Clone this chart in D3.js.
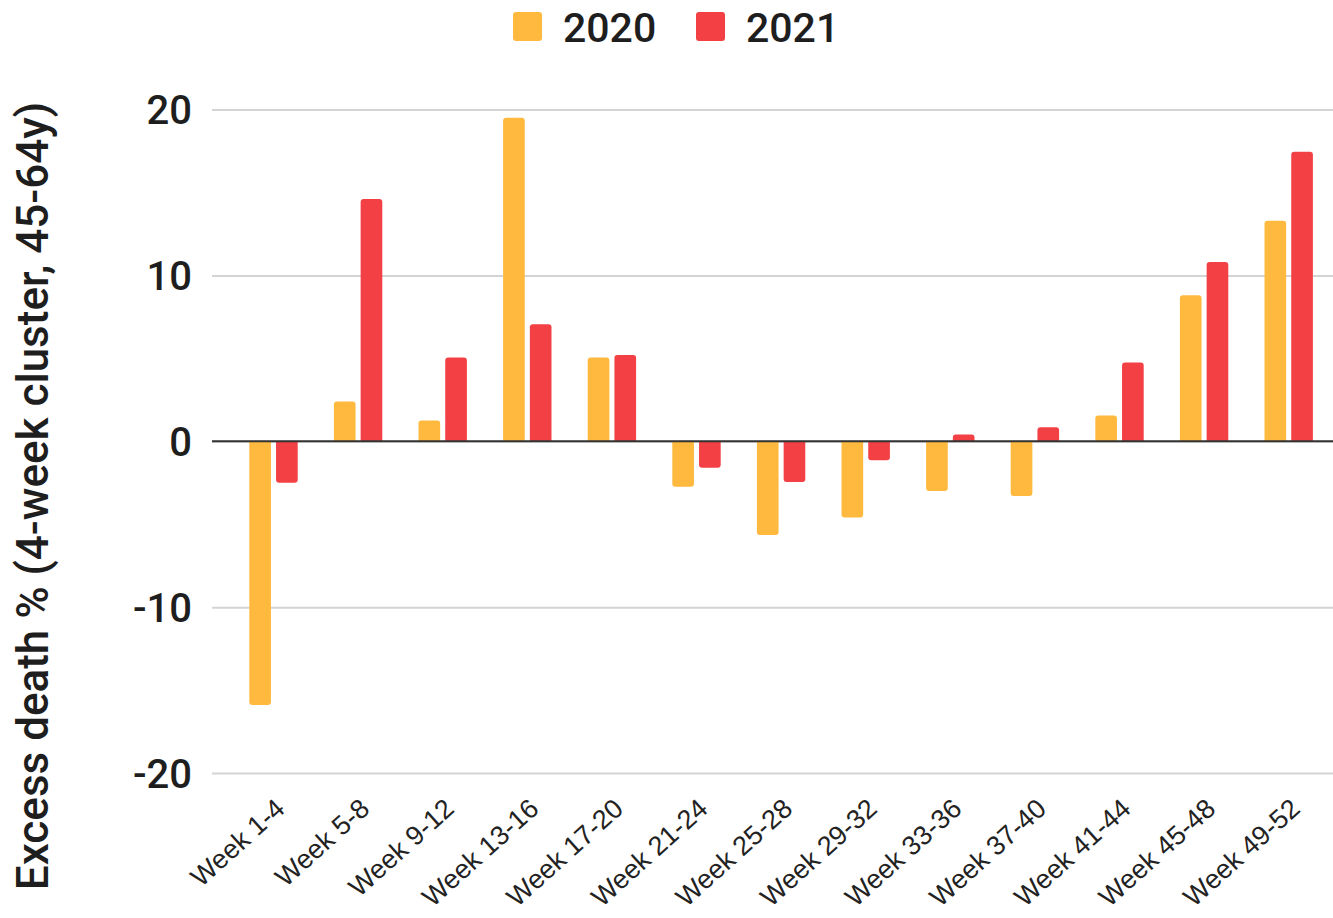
<!DOCTYPE html>
<html>
<head>
<meta charset="utf-8">
<script src="https://cdn.jsdelivr.net/npm/d3@7"></script>
<style>
  html, body { margin: 0; padding: 0; background: #fff; }
  svg { display: block; font-family: Roboto, "Liberation Sans", Arial, sans-serif; }
</style>
</head>
<body>
<svg id="chart" width="1333" height="918"></svg>
<script>
// 4-week clusters of the year
const categories = ["Week 1-4", "Week 5-8", "Week 9-12", "Week 13-16", "Week 17-20",
  "Week 21-24", "Week 25-28", "Week 29-32", "Week 33-36", "Week 37-40",
  "Week 41-44", "Week 45-48", "Week 49-52"];
// Excess death %, age 45-64
const values2020 = [-15.9, 2.4, 1.25, 19.5, 5.05, -2.75, -5.65, -4.6, -3.0, -3.3, 1.55, 8.8, 13.3];
const values2021 = [-2.5, 14.6, 5.05, 7.05, 5.2, -1.6, -2.45, -1.15, 0.4, 0.85, 4.75, 10.8, 17.45];
const seriesNames = ["2020", "2021"];
const seriesColors = ["#FFB93F", "#F34045"];
const yTicks = [-20, -10, 0, 10, 20];
const yTitle = "Excess death % (4-week cluster, 45-64y)";

const svg = d3.select("#chart");
const plotLeft = 212, plotRight = 1333;

const y = d3.scaleLinear().domain([-20, 20]).range([773, 109.5]);
const x0 = d3.scaleBand().domain(categories).range([231.2, 1331])
  .paddingInner(0.428).paddingOuter(0.214);
const x1 = d3.scaleBand().domain(seriesNames).range([0, x0.bandwidth()]).paddingInner(0.19);
const color = d3.scaleOrdinal().domain(seriesNames).range(seriesColors);

// Horizontal gridlines and tick labels
const yAxis = d3.axisLeft(y).tickValues(yTicks).tickFormat(d => String(d))
  .tickSize(-(plotRight - plotLeft)).tickPadding(20);
const gy = svg.append("g").attr("transform", `translate(${plotLeft},0)`).call(yAxis);
gy.select(".domain").remove();
gy.selectAll(".tick line").attr("stroke", "#d4d4d4").attr("stroke-width", 2);
gy.selectAll(".tick text").attr("fill", "#1e1e1e").attr("font-size", 40)
  .attr("font-weight", 500).attr("dy", "0.36em")
  .style("font-family", "Roboto, 'Liberation Sans', Arial, sans-serif");

// Bars with rounded outer ends
function barPath(xl, w, v) {
  const yz = y(0), yv = y(v);
  const h = Math.abs(yv - yz);
  const r = Math.min(3, h / 2, w / 2);
  if (v >= 0) {
    return `M${xl},${yz}V${yv + r}Q${xl},${yv} ${xl + r},${yv}H${xl + w - r}Q${xl + w},${yv} ${xl + w},${yv + r}V${yz}Z`;
  }
  return `M${xl},${yz}V${yv - r}Q${xl},${yv} ${xl + r},${yv}H${xl + w - r}Q${xl + w},${yv} ${xl + w},${yv - r}V${yz}Z`;
}

const rows = categories.map((c, i) => ({ cat: c, vals: [
  { key: "2020", v: values2020[i] }, { key: "2021", v: values2021[i] }] }));

const groups = svg.append("g").selectAll("g").data(rows).join("g")
  .attr("transform", d => `translate(${x0(d.cat)},0)`);
groups.selectAll("path").data(d => d.vals).join("path")
  .attr("d", d => barPath(x1(d.key), x1.bandwidth(), d.v))
  .attr("fill", d => color(d.key));

// Zero baseline
svg.append("line").attr("x1", plotLeft).attr("x2", plotRight)
  .attr("y1", y(0)).attr("y2", y(0)).attr("stroke", "#333").attr("stroke-width", 2);

// Rotated category labels
svg.append("g").selectAll("text").data(categories).join("text")
  .attr("transform", d => `translate(${x0(d) + x0.bandwidth() / 2 + 13},811) rotate(-42)`)
  .attr("text-anchor", "end")
  .attr("font-size", 27)
  .attr("fill", "#222")
  .style("font-family", "'Liberation Sans', Arial, sans-serif")
  .text(d => d);

// Y axis title
svg.append("text")
  .attr("transform", "translate(48,496) rotate(-90)")
  .attr("text-anchor", "middle")
  .attr("font-size", 44)
  .attr("font-weight", 500)
  .attr("fill", "#1e1e1e")
  .text(yTitle);

// Legend
const legendX = [513, 696];
const legend = svg.append("g").selectAll("g").data(seriesNames).join("g")
  .attr("transform", (d, i) => `translate(${legendX[i]},12)`);
legend.append("rect").attr("width", 29).attr("height", 29).attr("rx", 3)
  .attr("fill", d => color(d));
legend.append("text").attr("x", 50).attr("y", 29.5)
  .attr("font-size", 41).attr("font-weight", 500).attr("fill", "#1e1e1e").text(d => d);
</script>
</body>
</html>
